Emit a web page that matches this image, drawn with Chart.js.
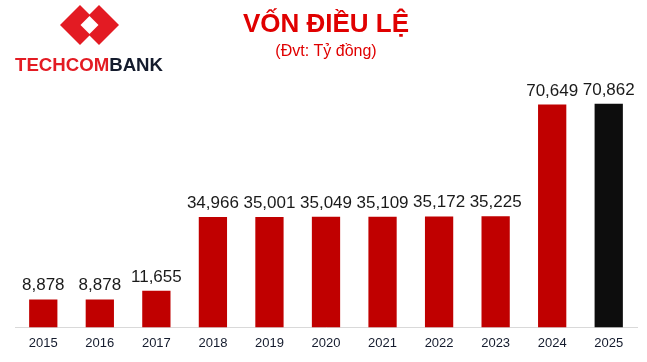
<!DOCTYPE html>
<html>
<head>
<meta charset="utf-8">
<script src="https://cdn.jsdelivr.net/npm/chart.js@4.4.1/dist/chart.umd.min.js"></script>
<style>
  html, body { margin: 0; padding: 0; background: #fff; }
  #khung { position: relative; width: 647px; height: 362px; }
  #logo { position: absolute; left: 0; top: 0; }
</style>
</head>
<body>
<div id="khung">
  <canvas id="graficoVon" width="647" height="362"></canvas>
  <svg id="logo" width="180" height="80" viewBox="0 0 180 80">
    <polygon points="80,5 100,25 80,45 60,25" fill="#E31B23"/>
    <polygon points="99,5 119,25 99,45 79,25" fill="#E31B23"/>
    <polygon points="89.5,16 98.5,25 89.5,34 80.5,25" fill="#fff"/>
    <text x="15" y="71" font-family="Liberation Sans, Arial" font-weight="bold" font-size="18" textLength="148" lengthAdjust="spacingAndGlyphs"><tspan fill="#E31B23">TECHCOM</tspan><tspan fill="#141B2D">BANK</tspan></text>
  </svg>
</div>
<script>
var nam = ['2015', '2016', '2017', '2018', '2019', '2020', '2021', '2022', '2023', '2024', '2025']
var vonDieuLe = [8878, 8878, 11655, 34966, 35001, 35049, 35109, 35172, 35225, 70649, 70862]
var mauCot = ['#C00000', '#C00000', '#C00000', '#C00000', '#C00000', '#C00000', '#C00000', '#C00000', '#C00000', '#C00000', '#0D0D0D']

// ve so len dau cot
var nhanGiaTri = {
    id: 'nhanGiaTri',
    afterDatasetsDraw: function (chart) {
        var ctx = chart.ctx
        var meta = chart.getDatasetMeta(0)
        ctx.save()
        ctx.font = '17px "Liberation Sans", Arial'
        ctx.fillStyle = '#1a1a1a'
        ctx.textAlign = 'center'
        ctx.textBaseline = 'alphabetic'
        meta.data.forEach(function (cot, i) {
            ctx.fillText(vonDieuLe[i].toLocaleString('en-US'), cot.x, cot.y - 9)
        })
        ctx.restore()
    }
}

var config = {
    type: 'bar',
    data: {
        labels: nam,
        datasets: [{
            label: 'Vốn điều lệ',
            data: vonDieuLe,
            backgroundColor: mauCot,
            categoryPercentage: 1,
            barPercentage: 0.5
        }]
    },
    options: {
        responsive: false,
        animation: false,
        layout: {
            padding: { top: 0, left: 15, right: 10, bottom: 3 }
        },
        plugins: {
            legend: { display: false },
            tooltip: { enabled: false },
            title: {
                display: true,
                text: 'VỐN ĐIỀU LỆ',
                color: '#E00000',
                font: { family: '"Liberation Sans", Arial', size: 26, weight: 'bold' },
                padding: { top: 9, bottom: 0 }
            },
            subtitle: {
                display: true,
                text: '(Đvt: Tỷ đồng)',
                color: '#E00000',
                font: { family: '"Liberation Sans", Arial', size: 16 },
                padding: { top: 2, bottom: 13.6 }
            }
        },
        scales: {
            x: {
                grid: { display: false, drawTicks: false },
                border: { display: true, color: '#D9D9D9', width: 1 },
                ticks: {
                    color: '#141B2D',
                    padding: 8,
                    font: { family: '"Liberation Sans", Arial', size: 13 }
                }
            },
            y: {
                display: false,
                min: 0,
                max: 80000
            }
        }
    },
    plugins: [nhanGiaTri]
}

var myChart = new Chart(document.getElementById('graficoVon'), config)
</script>
</body>
</html>
